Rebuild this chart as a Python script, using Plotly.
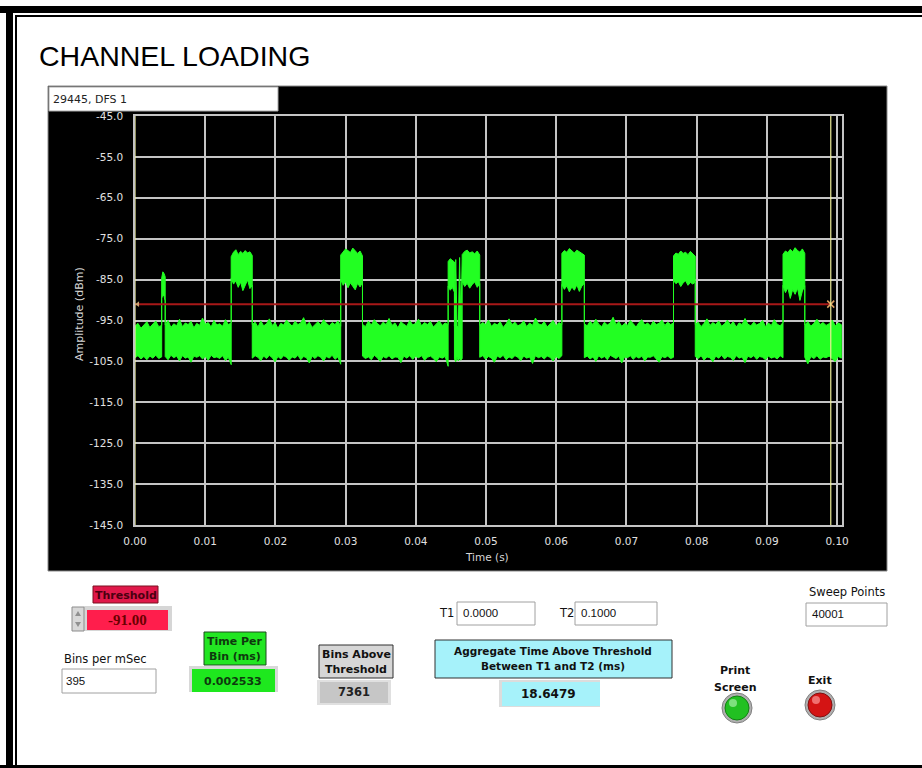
import numpy as np
import plotly.graph_objects as go

W, H = 922, 768

# ---------------- data ----------------
# segment boundaries (s) of the sweep: noise / burst / noise ...
seg_bounds = [0.0, 0.0038, 0.0043, 0.0137, 0.0167, 0.0293, 0.0324, 0.0446,
              0.0455, 0.0466, 0.0491, 0.0608, 0.0640, 0.0767, 0.0798, 0.0923,
              0.0954, 0.1006]

n1_up = [-96.4, -95.7, -96.9, -96.1, -95.3, -96.7, -95.9, -95.1, -96.5, -96.2]
n1_lo = [-104.1, -103.6, -104.4, -103.8, -104.6, -103.7, -104.2, -103.5, -104.3, -103.9]
s1_up = [-84.6, -83.1, -83.5, -84.3]
s1_lo = [-89.6, -88.7, -89.1, -90.2]
n2_up = [-96.1, -95.0, -96.7, -95.8, -96.3, -94.7, -96.5, -95.6, -96.0, -95.2, -96.8, -95.7,
         -96.2, -94.4, -95.9, -95.5, -96.6, -95.0, -96.1, -95.8, -96.4, -94.8, -96.0, -95.6]
n2_lo = [-103.8, -104.6, -103.5, -104.1, -103.7, -104.9, -103.6, -104.2, -103.9, -105.2, -103.7, -104.0,
         -103.6, -104.4, -103.8, -104.7, -103.5, -104.1, -103.9, -104.3, -103.6, -104.8, -104.0, -105.8]
b1_up = [-79.4, -78.3, -77.7, -78.9, -78.1, -78.6, -77.9, -78.5, -78.2, -79.1]
b1_lo = [-84.6, -86.1, -85.3, -86.9, -85.6, -87.7, -86.3, -85.1, -87.2, -86.4]
n3_up = [-96.0, -95.4, -96.6, -95.1, -96.3, -95.8, -94.6, -96.2, -95.5, -96.9, -95.7, -96.1,
         -94.9, -95.8, -96.4, -95.2, -96.0, -95.6, -94.3, -96.2, -95.4, -96.7, -95.9, -95.3,
         -96.1, -94.8, -95.7, -96.3, -95.5, -96.0, -95.1, -96.4]
n3_lo = [-104.2, -103.6, -104.0, -104.8, -103.7, -104.3, -103.5, -104.1, -105.1, -103.8, -104.4, -103.6,
         -104.0, -104.7, -103.9, -104.2, -103.5, -104.6, -103.8, -104.1, -105.4, -103.7, -104.3, -103.6,
         -104.0, -104.9, -103.8, -104.2, -103.5, -104.5, -103.9, -105.7]
b2_up = [-79.0, -78.2, -77.5, -77.9, -78.4, -77.3, -78.1, -78.6, -78.0, -79.2]
b2_lo = [-85.0, -86.4, -85.5, -87.0, -85.8, -86.6, -87.5, -85.9, -86.8, -85.7]
n4_up = [-95.9, -96.5, -95.2, -96.1, -94.8, -95.7, -96.3, -95.4, -96.0, -94.5, -96.2, -95.6,
         -96.8, -95.3, -95.9, -96.4, -95.0, -96.1, -95.7, -94.7, -96.3, -95.5, -96.0, -95.2,
         -96.6, -95.8, -95.1, -96.2, -95.6, -96.0]
n4_lo = [-103.7, -104.3, -103.9, -104.6, -103.5, -104.1, -105.0, -103.8, -104.2, -103.6, -104.4, -103.9,
         -104.0, -105.3, -103.7, -104.2, -103.6, -104.5, -103.8, -104.1, -103.6, -104.7, -104.0, -103.7,
         -104.3, -105.1, -103.9, -104.2, -103.8, -106.2]
b3a_up = [-80.6, -79.9, -80.3, -80.7]
b3a_lo = [-86.6, -87.6, -86.9, -88.1]
g_up = [-96.4, -80.1, -96.2, -96.8, -79.6, -96.3, -80.0]
g_lo = [-104.4, -105.1, -104.0, -104.9, -104.2, -104.7, -104.3]
b3b_up = [-78.9, -78.1, -77.8, -78.5, -78.2, -78.7, -78.0, -79.0]
b3b_lo = [-85.4, -86.7, -85.9, -87.1, -86.2, -85.6, -86.9, -86.0]
n5_up = [-96.2, -95.5, -96.0, -94.9, -96.4, -95.7, -96.1, -95.3, -96.7, -95.8, -94.6, -96.0,
         -95.4, -96.3, -95.9, -95.1, -96.5, -95.6, -96.2, -94.4, -95.8, -96.1, -95.3, -96.6,
         -95.7, -95.0, -96.3, -95.5, -96.0]
n5_lo = [-104.0, -103.6, -104.5, -103.8, -104.2, -105.2, -103.7, -104.1, -103.5, -104.6, -103.9, -104.3,
         -103.6, -104.0, -104.8, -103.7, -104.2, -103.9, -105.5, -103.6, -104.1, -103.8, -104.4, -103.7,
         -104.0, -104.9, -103.8, -104.3, -103.6]
b4_up = [-78.6, -77.9, -78.3, -77.4, -78.0, -78.5, -77.8, -78.2, -78.7, -79.0]
b4_lo = [-86.2, -87.4, -86.5, -88.0, -86.8, -87.6, -86.3, -87.9, -86.6, -85.9]
n6_up = [-95.8, -96.3, -95.2, -96.0, -94.7, -95.9, -96.5, -95.4, -96.1, -95.6, -94.2, -96.0,
         -95.3, -96.4, -95.7, -96.2, -95.0, -95.8, -96.6, -95.5, -94.8, -96.1, -95.6, -96.3,
         -95.2, -96.0, -95.7, -94.9, -96.2, -95.4, -96.0, -95.6]
n6_lo = [-104.1, -103.7, -104.4, -103.9, -105.0, -103.6, -104.2, -103.8, -104.6, -103.5, -104.0, -104.3,
         -103.7, -105.4, -103.9, -104.1, -103.6, -104.5, -103.8, -104.2, -103.7, -104.9, -103.9, -104.0,
         -103.6, -104.4, -105.2, -103.8, -104.1, -103.7, -104.3, -104.0]
b5_up = [-79.2, -78.5, -78.8, -78.0, -78.6, -78.3, -78.9, -78.1, -78.7, -79.3]
b5_lo = [-85.2, -86.0, -85.5, -86.7, -85.8, -85.3, -86.4, -85.7, -86.1, -85.6]
n7_up = [-96.0, -95.4, -96.5, -95.7, -94.6, -96.2, -95.5, -96.0, -95.1, -96.4, -95.8, -94.9,
         -96.1, -95.3, -96.6, -95.6, -96.0, -94.5, -95.9, -96.3, -95.4, -96.1, -95.7, -95.0,
         -96.5, -95.6, -96.2, -94.8, -95.9, -96.3, -95.5]
n7_lo = [-103.8, -104.3, -103.6, -104.7, -103.9, -104.1, -105.1, -103.7, -104.2, -103.5, -104.4, -103.8,
         -104.0, -104.8, -103.6, -104.2, -103.9, -105.3, -103.7, -104.1, -103.6, -104.5, -103.8, -104.0,
         -104.6, -103.7, -104.2, -103.9, -104.4, -103.6, -104.1]
b6_up = [-78.8, -78.0, -78.4, -77.6, -78.2, -77.2, -77.9, -78.3, -77.5, -78.6]
b6_lo = [-86.4, -88.2, -87.0, -89.6, -87.4, -88.6, -87.1, -90.1, -87.8, -86.5]
n8_up = [-96.1, -95.3, -96.4, -95.7, -94.7, -96.0, -95.5, -96.2, -95.8, -94.9, -96.3, -95.6, -96.0]
n8_lo = [-104.0, -105.6, -103.8, -104.3, -103.6, -104.5, -103.9, -104.1, -103.7, -104.4, -105.0, -103.8, -104.2]

uppers = [n1_up, s1_up, n2_up, b1_up, n3_up, b2_up, n4_up, b3a_up, g_up, b3b_up,
          n5_up, b4_up, n6_up, b5_up, n7_up, b6_up, n8_up]
lowers = [n1_lo, s1_lo, n2_lo, b1_lo, n3_lo, b2_lo, n4_lo, b3a_lo, g_lo, b3b_lo,
          n5_lo, b4_lo, n6_lo, b5_lo, n7_lo, b6_lo, n8_lo]

threshold = -91.0
cursor_t1 = 0.0
cursor_t2 = 0.0991
x_range = [0.0, 0.1007]
y_range = [-145.0, -45.0]
x_ticks = [0.00, 0.01, 0.02, 0.03, 0.04, 0.05, 0.06, 0.07, 0.08, 0.09, 0.10]
x_ticktext = ["0.00", "0.01", "0.02", "0.03", "0.04", "0.05", "0.06", "0.07", "0.08", "0.09", "0.10"]
y_ticks = [-145, -135, -125, -115, -105, -95, -85, -75, -65, -55, -45]
y_ticktext = ["-145.0", "-135.0", "-125.0", "-115.0", "-105.0", "-95.0", "-85.0", "-75.0", "-65.0", "-55.0", "-45.0"]

# ---------------- build trace envelope ----------------
ts, ups, los = [], [], []
for i, (u, l) in enumerate(zip(uppers, lowers)):
    t = np.linspace(seg_bounds[i], seg_bounds[i + 1], len(u))
    ts.extend(t.tolist()); ups.extend(u); los.extend(l)
poly_x = ts + ts[::-1]
poly_y = ups + los[::-1]

def X(x): return x / W
def Y(y): return 1 - y / H

fig = go.Figure()
fig.add_trace(go.Scatter(x=poly_x, y=poly_y, mode="lines", fill="toself",
                         fillcolor="#22ff22", line=dict(color="#22ff22", width=1),
                         hoverinfo="skip", showlegend=False))
# threshold line
fig.add_trace(go.Scatter(x=[cursor_t1, cursor_t2], y=[threshold, threshold], mode="lines",
                         line=dict(color="#a81818", width=2), showlegend=False))
fig.add_trace(go.Scatter(x=[cursor_t1 + 0.0004], y=[threshold], mode="markers",
                         marker=dict(symbol="triangle-left", size=5, color="#c8a070"), showlegend=False))
fig.add_trace(go.Scatter(x=[cursor_t2], y=[threshold], mode="markers",
                         marker=dict(symbol="x-thin", size=7, line=dict(color="#e0a060", width=1.5)),
                         showlegend=False))
# cursors
for c in (cursor_t1, cursor_t2):
    fig.add_trace(go.Scatter(x=[c, c], y=y_range, mode="lines",
                             line=dict(color="#eeee99", width=1.2), showlegend=False))

shapes = []
def rect(x0, y0, x1, y1, fill, line=None, lw=1):
    shapes.append(dict(type="rect", xref="paper", yref="paper", x0=X(x0), x1=X(x1),
                       y0=Y(y1), y1=Y(y0), fillcolor=fill,
                       line=dict(color=line if line else fill, width=lw if line else 0),
                       layer="below"))
def circle(cx, cy, r, fill, line=None, lw=1):
    shapes.append(dict(type="circle", xref="paper", yref="paper", x0=X(cx - r), x1=X(cx + r),
                       y0=Y(cy + r), y1=Y(cy - r), fillcolor=fill,
                       line=dict(color=line if line else fill, width=lw if line else 0),
                       layer="above"))

# frame
rect(0, 6, W, 13, "black")
rect(6, 6, 13, H, "black")
rect(15, 15, W, 17, "black")
rect(15, 15, 17, 765, "black")
rect(0, 765, W, H, "black")
# graph panel
rect(48, 86, 887, 571, "black", "#8a8a8a", 1)
rect(49, 87, 278, 111, "white", "#a8a8a8", 1)

# threshold control
rect(93, 586, 158, 603, "#e0184a", "#7a1020", 1)
rect(84, 606, 172, 631, "#d6d6d6")
rect(87, 610, 168, 630, "#ff1e4c")
rect(72, 607, 84, 631, "#d8d8d8", "#8c8c8c", 1)
shapes.append(dict(type="path", xref="paper", yref="paper",
                   path=f"M {X(75)} {Y(616)} L {X(81)} {Y(616)} L {X(78)} {Y(611)} Z",
                   fillcolor="#909090", line=dict(width=0)))
shapes.append(dict(type="path", xref="paper", yref="paper",
                   path=f"M {X(75)} {Y(622)} L {X(81)} {Y(622)} L {X(78)} {Y(627)} Z",
                   fillcolor="#909090", line=dict(width=0)))
# bins per msec
rect(62, 669, 156, 693, "white", "#a0a0a0", 1)
# time per bin
rect(204, 632, 266, 665, "#22e622", "#1c4a1c", 1)
rect(189, 666, 278, 692, "#d8d8d8")
rect(192, 669, 275, 692, "#1ee81e")
# bins above threshold
rect(319, 645, 393, 678, "#d6d6d6", "#303030", 1)
rect(317, 680, 391, 705, "#e0e0e0")
rect(320, 682, 388, 703, "#c6c6c6")
# T1, T2, sweep
rect(457, 602, 535, 625, "white", "#a0a0a0", 1)
rect(575, 602, 657, 625, "white", "#a0a0a0", 1)
rect(806, 603, 887, 626, "white", "#a0a0a0", 1)
# aggregate
rect(435, 640, 672, 678, "#a6f2fa", "#303030", 1)
rect(499, 680, 600, 707, "#dcdcdc")
rect(502, 682, 600, 706, "#a6f2fa")
# buttons
circle(737, 708, 15, "#b0b0b0", "#808080", 1)
circle(737, 708, 12, "#22c022", "#158015", 1)
circle(733, 703, 4, "#7ee07e")
circle(820, 705, 15, "#b0b0b0", "#808080", 1)
circle(820, 705, 12, "#d41414", "#801010", 1)
circle(816, 700, 4, "#f07070")

ann = []
def text(x, y, s, size, color="#000", bold=False, family="DejaVu Sans", xanchor="center"):
    ann.append(dict(xref="paper", yref="paper", x=X(x), y=Y(y), text=f"<b>{s}</b>" if bold else s,
                    showarrow=False, xanchor=xanchor, yanchor="middle",
                    font=dict(size=size, color=color, family=family)))

text(37, 56, "CHANNEL LOADING", 28.5, "#000", family="Liberation Sans", xanchor="left")
text(51, 99, "29445, DFS 1", 11, "#222", xanchor="left")
text(79, 314, "Amplitude (dBm)", 11, "#d8d8d8")
ann[-1]["textangle"] = -90
text(487, 557, "Time (s)", 10.5, "#d8d8d8")

text(126, 595, "Threshold", 11, "#4a0010", bold=True)
text(127, 620, "-91.00", 15, "#6a0000", bold=True, family="Liberation Serif")
text(62, 659, "Bins per mSec", 11.5, "#111", xanchor="left")
text(64, 681, "395", 11.5, "#111", family="Liberation Sans", xanchor="left")
text(235, 641, "Time Per", 11, "#0e3a0e", bold=True)
text(235, 656, "Bin (ms)", 11, "#0e3a0e", bold=True)
text(233, 681, "0.002533", 11, "#0e3a0e", bold=True)
text(356, 654, "Bins Above", 11, "#111", bold=True)
text(356, 669, "Threshold", 11, "#111", bold=True)
text(354, 692, "7361", 11.5, "#222", bold=True)
text(446, 613, "T1", 11.5, "#111")
text(461, 613, "0.0000", 11.5, "#111", family="Liberation Sans", xanchor="left")
text(566, 613, "T2", 11.5, "#111")
text(579, 613, "0.1000", 11.5, "#111", family="Liberation Sans", xanchor="left")
text(847, 592, "Sweep Points", 11.5, "#111")
text(810, 614, "40001", 11.5, "#111", family="Liberation Sans", xanchor="left")
text(553, 651, "Aggregate Time Above Threshold", 10.5, "#111", bold=True)
text(553, 666, "Between T1 and T2 (ms)", 10.5, "#111", bold=True)
text(548, 694, "18.6479", 12, "#111", bold=True)
text(735, 670, "Print", 11, "#111", bold=True)
text(735, 687, "Screen", 11, "#111", bold=True)
text(820, 680, "Exit", 11, "#111", bold=True)

fig.update_layout(
    width=W, height=H, autosize=False,
    margin=dict(l=0, r=0, t=0, b=0, pad=0),
    paper_bgcolor="white", plot_bgcolor="black",
    showlegend=False,
    shapes=shapes, annotations=ann,
    xaxis=dict(domain=[X(135), X(842)], range=x_range, tickvals=x_ticks, ticktext=x_ticktext,
               showgrid=True, gridcolor="#c4c4c4", gridwidth=1.5, zeroline=False, automargin=False,
               showline=True, mirror=True, linecolor="#c4c4c4", linewidth=1.5,
               ticks="outside", ticklen=6, tickcolor="black",
               tickfont=dict(family="DejaVu Sans", size=10.5, color="#e0e0e0"), fixedrange=True),
    yaxis=dict(domain=[Y(525), Y(116)], range=y_range, tickvals=y_ticks, ticktext=y_ticktext,
               showgrid=True, gridcolor="#c4c4c4", gridwidth=1.5, zeroline=False, automargin=False,
               showline=True, mirror=True, linecolor="#c4c4c4", linewidth=1.5,
               ticks="outside", ticklen=8, tickcolor="black",
               tickfont=dict(family="DejaVu Sans", size=10.5, color="#e0e0e0"), fixedrange=True),
)

fig.write_html("out.html", config={"displayModeBar": False},
               post_script="document.documentElement.style.margin='0';"
                           "document.body.style.margin='0';document.body.style.padding='0';"
                           "document.documentElement.style.overflow='hidden';"
                           "document.body.style.overflow='hidden';"
                           "var d=document.getElementById('{plot_id}');"
                           "d.style.position='fixed';d.style.left='0px';d.style.top='0px';")
